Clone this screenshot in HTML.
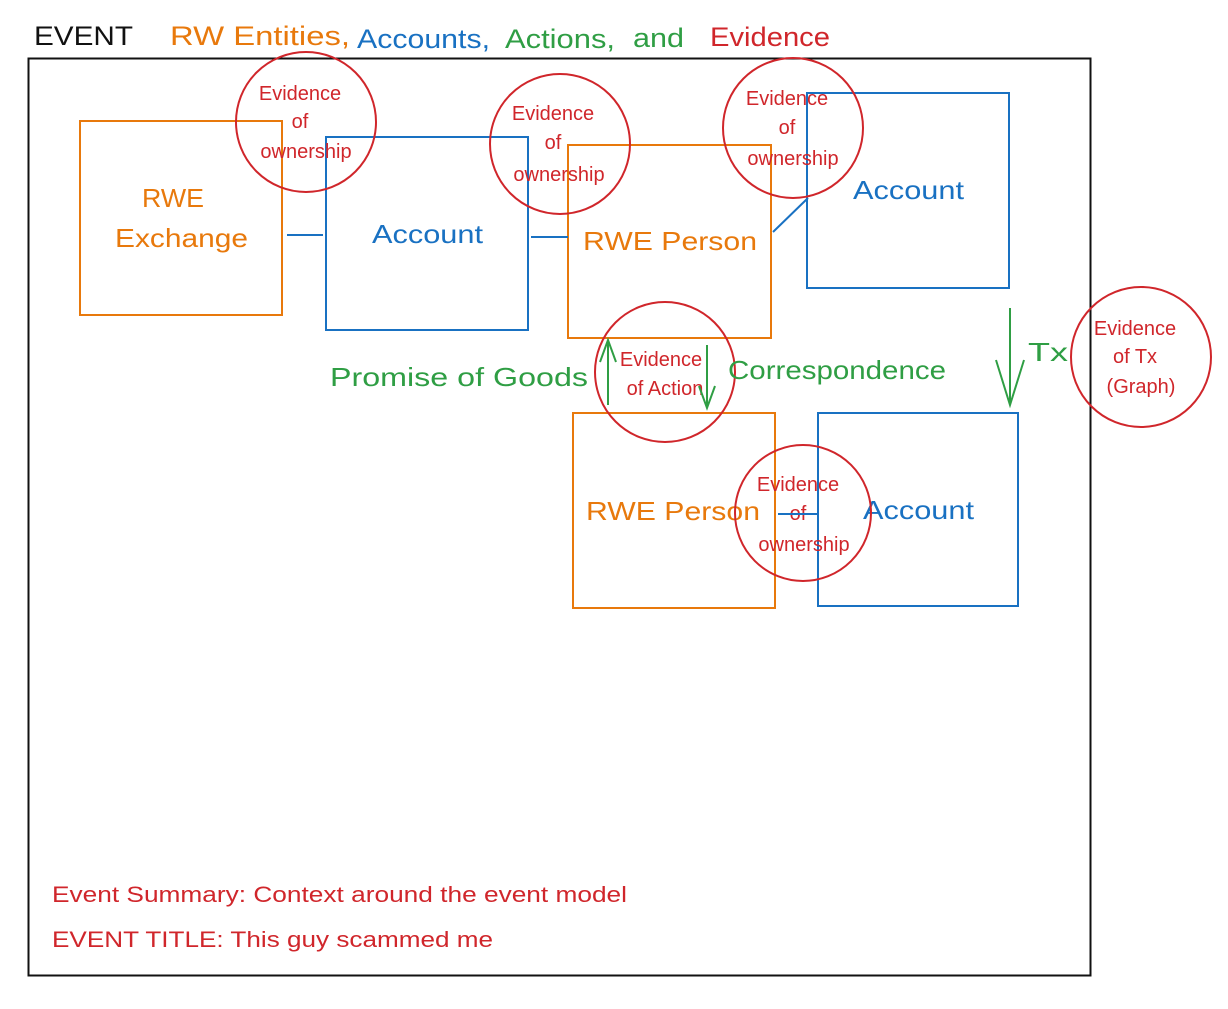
<!DOCTYPE html>
<html><head><meta charset="utf-8"><style>
html,body{margin:0;padding:0;background:#fff;}
svg{display:block;}
text{font-family:"Liberation Sans",sans-serif;}
</style></head><body>
<svg width="1228" height="1009" viewBox="0 0 1228 1009" xmlns="http://www.w3.org/2000/svg">
<rect x="0" y="0" width="1228" height="1009" fill="#fff"/>
<g font-size="27" lengthAdjust="spacingAndGlyphs">
<text x="34" y="45" fill="#111" textLength="99" lengthAdjust="spacingAndGlyphs">EVENT</text>
<text x="170" y="45" fill="#e8790c" textLength="180" lengthAdjust="spacingAndGlyphs">RW Entities,</text>
<text x="357" y="48" fill="#1971c2" textLength="133" lengthAdjust="spacingAndGlyphs">Accounts,</text>
<text x="505" y="48" fill="#2f9e44" textLength="110" lengthAdjust="spacingAndGlyphs">Actions,</text>
<text x="633" y="47" fill="#2f9e44" textLength="51" lengthAdjust="spacingAndGlyphs">and</text>
<text x="710" y="46" fill="#d0262b" textLength="120" lengthAdjust="spacingAndGlyphs">Evidence</text>
</g>
<rect x="28.5" y="58.5" width="1062" height="917" fill="none" stroke="#111" stroke-width="2"/>
<g fill="none" stroke-width="2">
<rect x="80" y="121" width="202" height="194" stroke="#e8790c"/>
<rect x="326" y="137" width="202" height="193" stroke="#1971c2"/>
<rect x="568" y="145" width="203" height="193" stroke="#e8790c"/>
<rect x="807" y="93" width="202" height="195" stroke="#1971c2"/>
<rect x="573" y="413" width="202" height="195" stroke="#e8790c"/>
<rect x="818" y="413" width="200" height="193" stroke="#1971c2"/>
</g>
<g font-size="26">
<text x="142" y="207" fill="#e8790c" textLength="62" lengthAdjust="spacingAndGlyphs">RWE</text>
<text x="115" y="247" fill="#e8790c" textLength="133" lengthAdjust="spacingAndGlyphs">Exchange</text>
<text x="372" y="243" fill="#1971c2" textLength="111" lengthAdjust="spacingAndGlyphs">Account</text>
<text x="583" y="250" fill="#e8790c" textLength="174" lengthAdjust="spacingAndGlyphs">RWE Person</text>
<text x="853" y="199" fill="#1971c2" textLength="111" lengthAdjust="spacingAndGlyphs">Account</text>
<text x="586" y="520" fill="#e8790c" textLength="174" lengthAdjust="spacingAndGlyphs">RWE Person</text>
<text x="863" y="519" fill="#1971c2" textLength="111" lengthAdjust="spacingAndGlyphs">Account</text>
</g>
<g stroke="#1971c2" stroke-width="2" fill="none">
<line x1="287" y1="235" x2="323" y2="235"/>
<line x1="531" y1="237" x2="568" y2="237"/>
<line x1="773" y1="232" x2="808" y2="198"/>
</g>
<g fill="none" stroke="#d0262b" stroke-width="2">
<circle cx="306" cy="122" r="70"/>
<circle cx="560" cy="144" r="70"/>
<circle cx="793" cy="128" r="70"/>
<circle cx="665" cy="372" r="70"/>
<circle cx="803" cy="513" r="68"/>
<circle cx="1141" cy="357" r="70"/>
</g>
<g font-size="20" fill="#d0262b" text-anchor="middle">
<text x="300" y="100">Evidence</text><text x="300" y="128">of</text><text x="306" y="158">ownership</text>
<text x="553" y="120">Evidence</text><text x="553" y="149">of</text><text x="559" y="181">ownership</text>
<text x="787" y="105">Evidence</text><text x="787" y="134">of</text><text x="793" y="165">ownership</text>
<text x="661" y="366">Evidence</text><text x="665" y="395">of Action</text>
<text x="798" y="491">Evidence</text><text x="798" y="520">of</text><text x="804" y="551">ownership</text>
<text x="1135" y="335">Evidence</text><text x="1135" y="363">of Tx</text><text x="1141" y="393">(Graph)</text>
</g>
<g font-size="26" fill="#2f9e44">
<text x="330" y="386" textLength="258" lengthAdjust="spacingAndGlyphs">Promise of Goods</text>
<text x="728" y="379" textLength="218" lengthAdjust="spacingAndGlyphs">Correspondence</text>
<text x="1028" y="361" textLength="40" lengthAdjust="spacingAndGlyphs">Tx</text>
</g>
<g stroke="#2f9e44" stroke-width="2" fill="none">
<line x1="608" y1="405" x2="608" y2="340"/><polyline points="600,362 608,340 616,362"/>
<line x1="707" y1="345" x2="707" y2="408"/><polyline points="699,386 707,408 715,386"/>
<line x1="1010" y1="308" x2="1010" y2="405"/><polyline points="996,360 1010,405 1024,360"/>
</g>
<line x1="778" y1="514" x2="818" y2="514" stroke="#1971c2" stroke-width="2"/>
<g font-size="22" fill="#d0262b">
<text x="52" y="902" textLength="575" lengthAdjust="spacingAndGlyphs">Event Summary: Context around the event model</text>
<text x="52" y="947" textLength="441" lengthAdjust="spacingAndGlyphs">EVENT TITLE: This guy scammed me</text>
</g>
</svg>
</body></html>
